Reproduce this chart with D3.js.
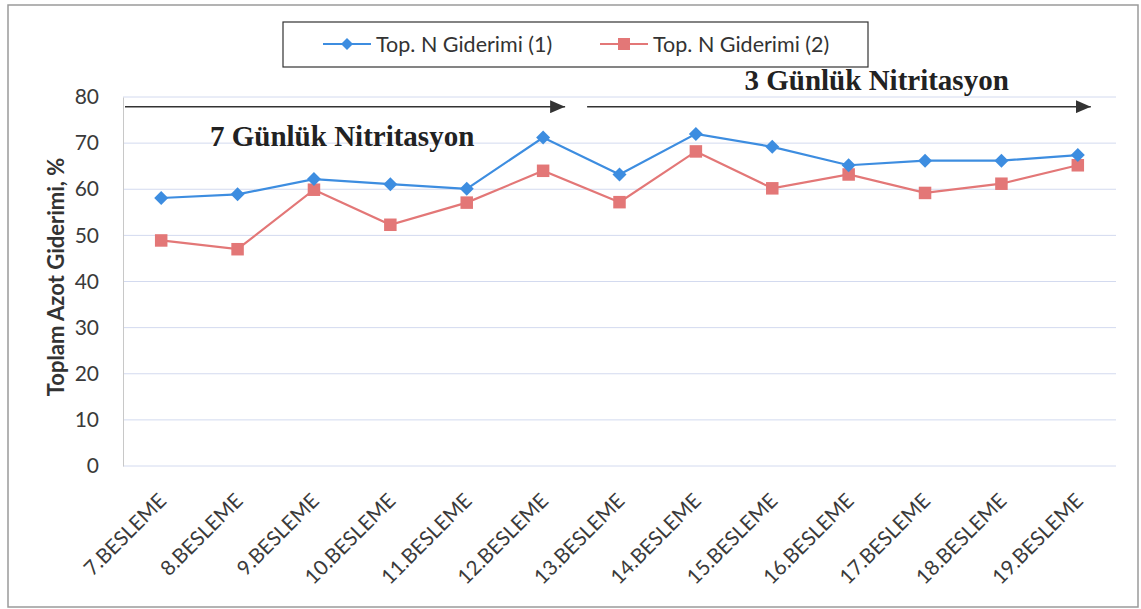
<!DOCTYPE html>
<html>
<head>
<meta charset="utf-8">
<script src="https://cdn.jsdelivr.net/npm/d3@7"></script>
<style>
  body { margin: 0; background: #fff; }
  svg { display: block; }
</style>
</head>
<body>
<script>
// data
var categories = ["7.BESLEME", "8.BESLEME", "9.BESLEME", "10.BESLEME", "11.BESLEME", "12.BESLEME",
    "13.BESLEME", "14.BESLEME", "15.BESLEME", "16.BESLEME", "17.BESLEME", "18.BESLEME", "19.BESLEME"]
var seriesNames = ["Top. N Giderimi (1)", "Top. N Giderimi (2)"]
var giderim1 = [58.1, 58.9, 62.2, 61.1, 60.1, 71.2, 63.2, 72.0, 69.2, 65.2, 66.2, 66.2, 67.4]
var giderim2 = [48.9, 47.0, 59.9, 52.3, 57.1, 64.0, 57.2, 68.2, 60.2, 63.2, 59.2, 61.2, 65.2]
var yTicks = [0, 10, 20, 30, 40, 50, 60, 70, 80]
var phaseLabels = ["7 Günlük Nitritasyon", "3 Günlük Nitritasyon"]

var W = 1141, H = 609
var margin = { top: 97, right: 25, bottom: 143, left: 123 }
var width = W - margin.left - margin.right
var height = H - margin.top - margin.bottom

var blue = "#3d8de0", red = "#e37777"
var sans = "Lato, 'Open Sans', sans-serif"
var serif = "'Liberation Serif', 'Times New Roman', serif"

var svg = d3.select("body").append("svg")
    .attr("width", W)
    .attr("height", H)

svg.append("defs").append("marker")
    .attr("id", "arrowhead")
    .attr("viewBox", "0 0 10 10")
    .attr("refX", 10).attr("refY", 5)
    .attr("markerWidth", 15).attr("markerHeight", 13)
    .attr("markerUnits", "userSpaceOnUse")
    .attr("orient", "auto")
    .attr("preserveAspectRatio", "none")
    .append("path")
    .attr("d", "M0,0 L10,5 L0,10 Z")
    .attr("fill", "#333")

// outer frame
svg.append("rect")
    .attr("x", 8).attr("y", 5)
    .attr("width", 1130).attr("height", 602)
    .attr("fill", "none")
    .attr("stroke", "#9a9a9a")
    .attr("stroke-width", 1.5)

var g = svg.append("g").attr("transform", "translate(" + [margin.left, margin.top] + ")")

var x = d3.scalePoint()
    .domain(categories)
    .range([0, width])
    .padding(0.5)

var y = d3.scaleLinear()
    .domain([0, 80])
    .range([height, 0])

// gridlines
g.append("g")
    .selectAll("line")
    .data(yTicks)
    .join("line")
    .attr("x1", 0).attr("x2", width)
    .attr("y1", d => y(d)).attr("y2", d => y(d))
    .attr("stroke", "#d3daef")
    .attr("stroke-width", 1)

// y axis
var yAxis = g.append("g")
    .call(d3.axisLeft(y).tickValues(yTicks).tickSize(0).tickPadding(24))
yAxis.select(".domain").attr("stroke", "#c8c8c8")
yAxis.selectAll("text")
    .attr("font-family", sans)
    .attr("font-size", 21)
    .attr("fill", "#3a3a3a")

// x axis labels
var xAxis = g.append("g")
    .attr("transform", "translate(0," + height + ")")
    .call(d3.axisBottom(x).tickSize(0).tickPadding(0))
xAxis.select(".domain").remove()
xAxis.selectAll("text")
    .attr("font-family", sans)
    .attr("font-size", 20.5)
    .attr("fill", "#3a3a3a")
    .attr("text-anchor", "end")
    .attr("dy", 0)
    .attr("transform", "translate(6,36) rotate(-45)")

// y axis title
svg.append("text")
    .attr("transform", "translate(64,277) rotate(-90)")
    .attr("text-anchor", "middle")
    .attr("font-family", sans)
    .attr("font-weight", "bold")
    .attr("font-size", 22)
    .attr("fill", "#333")
    .text("Toplam Azot Giderimi, %")

// lines
var line = d3.line()
    .x((d, i) => x(categories[i]))
    .y(d => y(d))

g.append("path")
    .datum(giderim2)
    .attr("d", line)
    .attr("fill", "none")
    .attr("stroke", red)
    .attr("stroke-width", 2.2)

g.append("path")
    .datum(giderim1)
    .attr("d", line)
    .attr("fill", "none")
    .attr("stroke", blue)
    .attr("stroke-width", 2.2)

var sq = 12.5, dm = 7

g.append("g")
    .selectAll("rect")
    .data(giderim2)
    .join("rect")
    .attr("x", (d, i) => x(categories[i]) - sq / 2)
    .attr("y", d => y(d) - sq / 2)
    .attr("width", sq).attr("height", sq)
    .attr("fill", red)

g.append("g")
    .selectAll("path")
    .data(giderim1)
    .join("path")
    .attr("d", (d, i) => {
        var cx = x(categories[i]), cy = y(d)
        return "M" + cx + "," + (cy - dm) + "L" + (cx + dm) + "," + cy + "L" + cx + "," + (cy + dm) + "L" + (cx - dm) + "," + cy + "Z"
    })
    .attr("fill", blue)

// phase arrows and labels
var arrowY = y(77.9)
g.append("line")
    .attr("x1", 2).attr("x2", x(categories[5]) + 22)
    .attr("y1", arrowY).attr("y2", arrowY)
    .attr("stroke", "#333").attr("stroke-width", 1.6)
    .attr("marker-end", "url(#arrowhead)")
g.append("line")
    .attr("x1", x(categories[5]) + 44).attr("x2", x(categories[12]) + 13)
    .attr("y1", arrowY).attr("y2", arrowY)
    .attr("stroke", "#333").attr("stroke-width", 1.6)
    .attr("marker-end", "url(#arrowhead)")

g.append("text")
    .attr("x", (x(categories[1]) + x(categories[4])) / 2 - 10)
    .attr("y", y(69.4))
    .attr("text-anchor", "middle")
    .attr("font-family", serif)
    .attr("font-weight", "bold")
    .attr("font-size", 29)
    .attr("fill", "#222")
    .text(phaseLabels[0])

g.append("text")
    .attr("x", x(categories[9]) + 28)
    .attr("y", y(81.6))
    .attr("text-anchor", "middle")
    .attr("font-family", serif)
    .attr("font-weight", "bold")
    .attr("font-size", 29)
    .attr("fill", "#222")
    .text(phaseLabels[1])

// legend
svg.append("rect")
    .attr("x", 283).attr("y", 22)
    .attr("width", 585).attr("height", 45)
    .attr("fill", "#fff")
    .attr("stroke", "#333")
    .attr("stroke-width", 1.2)

var legendItems = [
    { name: seriesNames[0], color: blue, shape: "diamond", x: 323 },
    { name: seriesNames[1], color: red, shape: "square", x: 600 }
]
legendItems.forEach(function (it) {
    var ly = 44
    svg.append("line")
        .attr("x1", it.x).attr("x2", it.x + 48)
        .attr("y1", ly).attr("y2", ly)
        .attr("stroke", it.color).attr("stroke-width", 2.2)
    var cx = it.x + 24
    if (it.shape === "diamond") {
        svg.append("path")
            .attr("d", "M" + cx + "," + (ly - 6) + "L" + (cx + 6) + "," + ly + "L" + cx + "," + (ly + 6) + "L" + (cx - 6) + "," + ly + "Z")
            .attr("fill", it.color)
    } else {
        svg.append("rect")
            .attr("x", cx - 6).attr("y", ly - 6)
            .attr("width", 12).attr("height", 12)
            .attr("fill", it.color)
    }
    svg.append("text")
        .attr("x", it.x + 53)
        .attr("y", ly + 8)
        .attr("font-family", sans)
        .attr("font-size", 21.5)
        .attr("fill", "#333")
        .text(it.name)
})
</script>
</body>
</html>
